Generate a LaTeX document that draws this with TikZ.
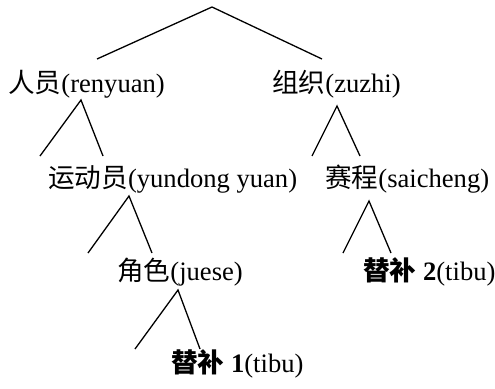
\documentclass[tikz,border=0pt]{standalone}
\usepackage{fontspec}
\setmainfont{Liberation Serif}
\newfontfamily\cjk{Noto Sans CJK SC}
\tikzset{
  lbl/.style={inner sep=0pt, anchor=base west, font=\fontsize{26.6}{28}\selectfont},
  br/.style={line width=1.3pt, black}
}
\begin{document}
\begin{tikzpicture}[x=1pt,y=-1pt]
\useasboundingbox (0,0) rectangle (495,388);
% labels
\node[lbl] (ren) at (8,92) {{\cjk 人员}(renyuan)};
\node[lbl] (zu) at (272,92) {{\cjk 组织}(zuzhi)};
\node[lbl] (yun) at (48,187) {{\cjk 运动员}(yundong yuan)};
\node[lbl] (sai) at (325,187) {{\cjk 赛程}(saicheng)};
\node[lbl] (jue) at (117,280) {{\cjk 角色}(juese)};
\node[lbl] (tb2) at (363,280) {\textbf{{\cjk 替补} 2}(tibu)};
\node[lbl] (tb1) at (171,372) {\textbf{{\cjk 替补} 1}(tibu)};
% coordinates
\coordinate (r0) at (212,7);
\coordinate (r0l) at (97,59);
\coordinate (r0r) at (322,59);
\coordinate (a1) at (81,100);
\coordinate (a1l) at (40,156);
\coordinate (a1r) at (103,156);
\coordinate (a2) at (337,106);
\coordinate (a2l) at (312,156);
\coordinate (a2r) at (360,156);
\coordinate (a3) at (129,196);
\coordinate (a3l) at (88,253);
\coordinate (a3r) at (152,253);
\coordinate (a4) at (369,201);
\coordinate (a4l) at (343,253);
\coordinate (a4r) at (391,253);
\coordinate (a5) at (178,290);
\coordinate (a5l) at (135,349);
\coordinate (a5r) at (200,349);
% branches
\draw[br] (r0l) -- (r0) -- (r0r);
\draw[br] (a1l) -- (a1) -- (a1r);
\draw[br] (a2l) -- (a2) -- (a2r);
\draw[br] (a3l) -- (a3) -- (a3r);
\draw[br] (a4l) -- (a4) -- (a4r);
\draw[br] (a5l) -- (a5) -- (a5r);
\end{tikzpicture}
\end{document}
